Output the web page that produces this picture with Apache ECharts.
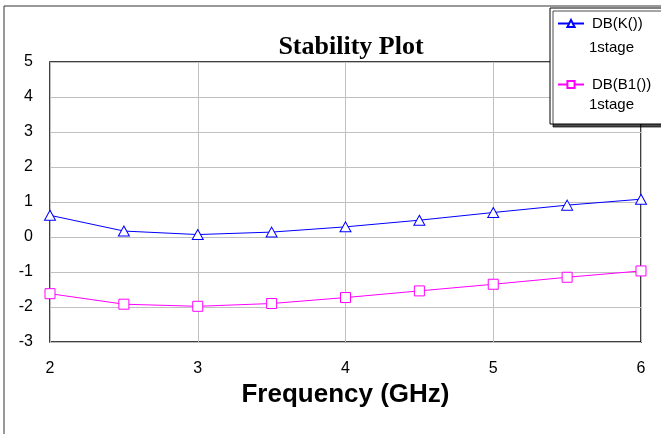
<!DOCTYPE html>
<html>
<head>
<meta charset="utf-8">
<script src="https://cdn.jsdelivr.net/npm/echarts@6/dist/echarts.min.js"></script>
<style>
  html, body { margin: 0; padding: 0; background: #fff; }
  #chart { width: 661px; height: 434px; }
</style>
</head>
<body>
<div id="chart"></div>
<script>
// frequency points (GHz)
const freq = [2, 2.5, 3, 3.5, 4, 4.5, 5, 5.5, 6];
// DB(K()) 1stage
const dbK = [0.62, 0.17, 0.07, 0.14, 0.29, 0.48, 0.7, 0.91, 1.08];
// DB(B1()) 1stage
const dbB1 = [-1.62, -1.92, -1.98, -1.9, -1.73, -1.54, -1.35, -1.15, -0.97];
const seriesNames = ["DB(K())", "DB(B1())"];
const subLabel = "1stage";

const narrow = "'Liberation Sans Narrow', 'Arial Narrow', 'Liberation Sans', sans-serif";
const sans = "'Liberation Sans', Arial, sans-serif";

const myChart = echarts.init(document.getElementById("chart"));

function pairs(ys) {
  return freq.map((f, i) => [f, ys[i]]);
}

const option = {
  backgroundColor: "#fff",
  animation: false,
  title: {
    text: "Stability Plot",
    left: 346,
    top: 29,
    textAlign: "center",
    textStyle: {
      fontFamily: "'Liberation Serif', 'Times New Roman', serif",
      fontWeight: "bold",
      fontSize: 26,
      color: "#000"
    }
  },
  legend: {
    data: seriesNames,
    orient: "vertical",
    left: 550,
    top: 8,
    padding: [8, 30, 32, 7],
    itemGap: 46,
    itemWidth: 26,
    itemHeight: 9,
    backgroundColor: "#fff",
    borderColor: "#000",
    borderWidth: 1,
    shadowColor: "rgba(0,0,0,0.7)",
    shadowBlur: 0,
    shadowOffsetX: 3,
    shadowOffsetY: 3,
    textStyle: {
      fontFamily: sans,
      fontSize: 15,
      color: "#000",
      padding: [0, 0, 0, 3]
    }
  },
  graphic: [
    {
      type: "rect",
      z: -1,
      shape: { x: 4, y: 6, width: 700, height: 500 },
      style: { fill: "none", stroke: "#333", lineWidth: 1 }
    },
    {
      type: "text",
      z: 100,
      left: 589,
      top: 40,
      style: { text: subLabel, font: "15px " + sans, fill: "#000" }
    },
    {
      type: "text",
      z: 100,
      left: 589,
      top: 97,
      style: { text: subLabel, font: "15px " + sans, fill: "#000" }
    }
  ],
  grid: {
    left: 50,
    right: 20,
    top: 62,
    bottom: 92,
    show: true,
    backgroundColor: "#fff",
    borderColor: "#000",
    borderWidth: 1.5
  },
  xAxis: {
    type: "value",
    min: 2,
    max: 6,
    interval: 1,
    name: "Frequency (GHz)",
    nameLocation: "middle",
    nameGap: 37,
    nameTextStyle: {
      fontFamily: sans,
      fontWeight: "bold",
      fontSize: 26,
      color: "#000"
    },
    axisLine: { show: false },
    axisTick: { show: false },
    axisLabel: {
      margin: 19,
      fontFamily: narrow,
      fontSize: 16,
      color: "#000"
    },
    splitLine: { show: true, lineStyle: { color: "#c0c0c0", width: 1 } }
  },
  yAxis: {
    type: "value",
    min: -3,
    max: 5,
    interval: 1,
    axisLine: { show: false },
    axisTick: { show: false },
    axisLabel: {
      margin: 17,
      fontFamily: narrow,
      fontSize: 16,
      color: "#000"
    },
    splitLine: { show: true, lineStyle: { color: "#c0c0c0", width: 1 } }
  },
  series: [
    {
      name: seriesNames[0],
      type: "line",
      data: pairs(dbK),
      symbol: "triangle",
      symbolSize: [11, 10],
      showAllSymbol: true,
      lineStyle: { color: "#0000ff", width: 1 },
      itemStyle: { color: "#fff", borderColor: "#0000ff", borderWidth: 1 }
    },
    {
      name: seriesNames[1],
      type: "line",
      data: pairs(dbB1),
      symbol: "rect",
      symbolSize: 10,
      showAllSymbol: true,
      lineStyle: { color: "#ff00ff", width: 1 },
      itemStyle: { color: "#fff", borderColor: "#ff00ff", borderWidth: 1 }
    }
  ]
};

myChart.setOption(option);
</script>
</body>
</html>
